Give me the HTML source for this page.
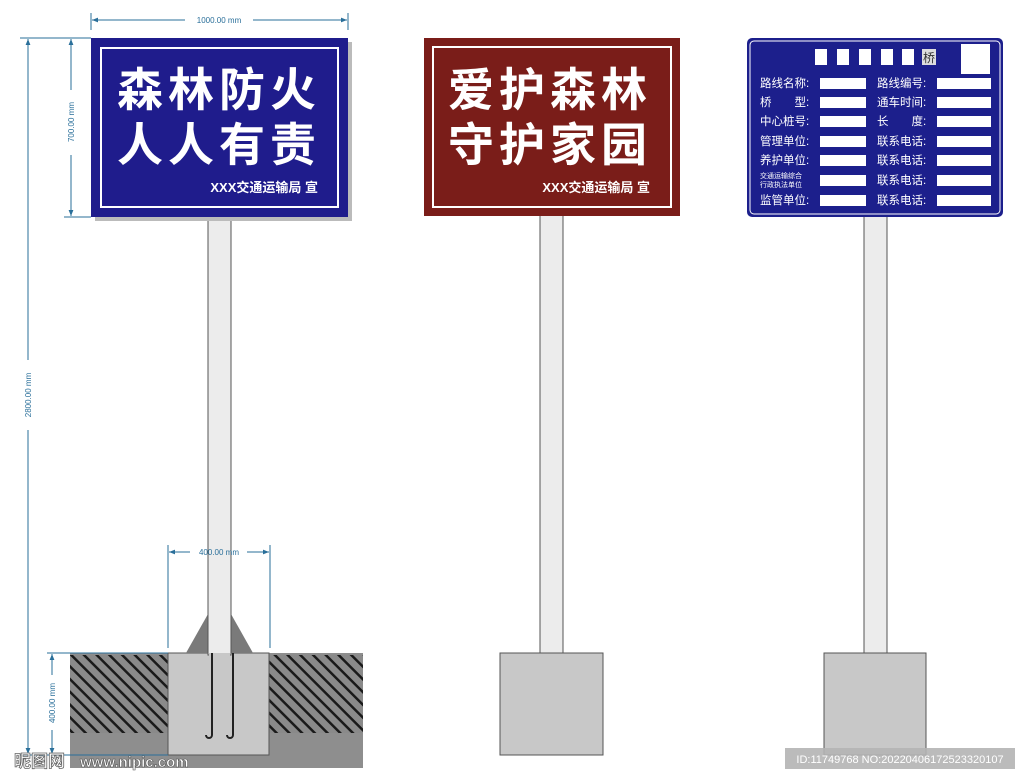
<!DOCTYPE html>
<html><head><meta charset="utf-8"><style>
html,body{margin:0;padding:0;background:#fff;width:1024px;height:779px;overflow:hidden}
svg{display:block}
text{font-family:"Liberation Sans","Noto Sans CJK SC",sans-serif}
</style></head><body>
<svg width="1024" height="779" viewBox="0 0 1024 779" xmlns="http://www.w3.org/2000/svg">
<defs>
<pattern id="hatch" width="9" height="9" patternUnits="userSpaceOnUse" patternTransform="rotate(-45)">
<rect width="9" height="9" fill="#8a8a8a"/>
<rect x="0" y="0" width="2.5" height="9" fill="#1a1a1a"/>
</pattern>
<marker id="ar" viewBox="0 0 10 10" refX="10" refY="5" markerWidth="8" markerHeight="6" orient="auto-start-reverse"><path d="M0,1 L10,5 L0,9 z" fill="#2a6f9a"/></marker>
</defs>

<rect x="70" y="653" width="293" height="115" fill="#8e8e8e"/>
<rect x="70" y="655" width="293" height="78" fill="url(#hatch)"/>
<rect x="168" y="653" width="101" height="102" fill="#c8c8c8" stroke="#555" stroke-width="1"/>
<polygon points="186,653 208,614 208,653" fill="#7a7a7a"/>
<polygon points="231,614 253,653 231,653" fill="#7a7a7a"/>
<rect x="208" y="215" width="23" height="440" fill="#ececec" stroke="#555" stroke-width="1"/>
<rect x="209" y="653" width="21" height="100" fill="#c8c8c8"/>
<path d="M212,653 V735 a3,3 0 0 1 -6,0" fill="none" stroke="#222" stroke-width="2"/>
<path d="M233,653 V735 a3,3 0 0 1 -6,0" fill="none" stroke="#222" stroke-width="2"/>

<rect x="540" y="215" width="23" height="440" fill="#ececec" stroke="#555" stroke-width="1"/>
<rect x="500" y="653" width="103" height="102" fill="#c8c8c8" stroke="#555" stroke-width="1"/>
<rect x="864" y="215" width="23" height="440" fill="#ececec" stroke="#555" stroke-width="1"/>
<rect x="824" y="653" width="102" height="102" fill="#c8c8c8" stroke="#555" stroke-width="1"/>

<rect x="95" y="42" width="257" height="179" fill="#bbb"/>
<rect x="91" y="38" width="257" height="179" fill="#1f1c8c"/>
<rect x="101" y="48" width="237" height="159" fill="none" stroke="#fff" stroke-width="2"/>
<text x="219" y="106" fill="#fff" font-size="46" font-weight="bold" text-anchor="middle" letter-spacing="5">森林防火</text>
<text x="219" y="161" fill="#fff" font-size="46" font-weight="bold" text-anchor="middle" letter-spacing="5">人人有责</text>
<text x="318" y="192" fill="#fff" font-size="13" font-weight="bold" text-anchor="end">XXX交通运输局 宣</text>

<rect x="424" y="38" width="256" height="178" fill="#7a1d19"/>
<rect x="433" y="47" width="238" height="160" fill="none" stroke="#fff" stroke-width="2"/>
<text x="550" y="106" fill="#fff" font-size="46" font-weight="bold" text-anchor="middle" letter-spacing="5">爱护森林</text>
<text x="550" y="161" fill="#fff" font-size="46" font-weight="bold" text-anchor="middle" letter-spacing="5">守护家园</text>
<text x="650" y="192" fill="#fff" font-size="13" font-weight="bold" text-anchor="end">XXX交通运输局 宣</text>

<rect x="747" y="38" width="256" height="179" rx="5" fill="#1c1f8c"/>
<rect x="750" y="41" width="250" height="173" rx="4" fill="none" stroke="#fff" stroke-width="1"/>
<g fill="#fff">
<rect x="815" y="49" width="12" height="16"/><rect x="837" y="49" width="12" height="16"/><rect x="859" y="49" width="12" height="16"/><rect x="881" y="49" width="12" height="16"/><rect x="902" y="49" width="12" height="16"/>
<rect x="922" y="49" width="14" height="16" fill="#ddd"/>
<rect x="961" y="44" width="29" height="30"/>
</g>
<text x="929" y="62" font-size="12" fill="#333" text-anchor="middle">桥</text>
<g fill="#fff" font-size="11.5">
<text x="760" y="87">路线名称:</text><text x="877" y="87">路线编号:</text>
<text x="760" y="106">桥　　型:</text><text x="877" y="106">通车时间:</text>
<text x="760" y="125">中心桩号:</text><text x="877" y="125">长　　度:</text>
<text x="760" y="145">管理单位:</text><text x="877" y="145">联系电话:</text>
<text x="760" y="164">养护单位:</text><text x="877" y="164">联系电话:</text>
<text x="760" y="178" font-size="7">交通运输综合</text><text x="760" y="187" font-size="7">行政执法单位</text><text x="877" y="184">联系电话:</text>
<text x="760" y="204">监管单位:</text><text x="877" y="204">联系电话:</text>
<rect x="820" y="78" width="46" height="11"/><rect x="937" y="78" width="54" height="11"/>
<rect x="820" y="97" width="46" height="11"/><rect x="937" y="97" width="54" height="11"/>
<rect x="820" y="116" width="46" height="11"/><rect x="937" y="116" width="54" height="11"/>
<rect x="820" y="136" width="46" height="11"/><rect x="937" y="136" width="54" height="11"/>
<rect x="820" y="155" width="46" height="11"/><rect x="937" y="155" width="54" height="11"/>
<rect x="820" y="175" width="46" height="11"/><rect x="937" y="175" width="54" height="11"/>
<rect x="820" y="195" width="46" height="11"/><rect x="937" y="195" width="54" height="11"/>
</g>

<g stroke="#2a6f9a" stroke-width="1" fill="none">
<line x1="91" y1="13" x2="91" y2="30"/><line x1="348" y1="13" x2="348" y2="30"/>
<line x1="92" y1="20" x2="185" y2="20" marker-start="url(#ar)"/><line x1="253" y1="20" x2="347" y2="20" marker-end="url(#ar)"/>
<line x1="20" y1="38" x2="91" y2="38"/>
<line x1="28" y1="39" x2="28" y2="360" marker-start="url(#ar)"/><line x1="28" y1="430" x2="28" y2="754" marker-end="url(#ar)"/>
<line x1="71" y1="39" x2="71" y2="90" marker-start="url(#ar)"/><line x1="71" y1="155" x2="71" y2="216" marker-end="url(#ar)"/>
<line x1="64" y1="217" x2="91" y2="217"/>
<line x1="168" y1="545" x2="168" y2="648"/><line x1="270" y1="545" x2="270" y2="648"/>
<line x1="169" y1="552" x2="190" y2="552" marker-start="url(#ar)"/><line x1="247" y1="552" x2="269" y2="552" marker-end="url(#ar)"/>
<line x1="47" y1="653" x2="168" y2="653"/>
<line x1="52" y1="654" x2="52" y2="675" marker-start="url(#ar)"/><line x1="52" y1="730" x2="52" y2="754" marker-end="url(#ar)"/>
<line x1="20" y1="755" x2="168" y2="755"/>
</g>
<g fill="#2a6f9a" font-size="8">
<text x="219" y="23" text-anchor="middle">1000.00 mm</text>
<text x="219" y="555" text-anchor="middle">400.00 mm</text>
<text transform="translate(31,395) rotate(-90)" text-anchor="middle">2800.00 mm</text>
<text transform="translate(74,122) rotate(-90)" text-anchor="middle">700.00 mm</text>
<text transform="translate(55,703) rotate(-90)" text-anchor="middle">400.00 mm</text>
</g>

<text x="14" y="767" font-size="17" font-weight="bold" fill="#fff" stroke="#666" stroke-width="0.8">昵图网</text>
<text x="80" y="767" font-size="15" font-weight="bold" fill="#fff" stroke="#555" stroke-width="0.6">www.nipic.com</text>
<rect x="785" y="748" width="230" height="21" fill="#b4b4b4" opacity="0.9"/>
<text x="900" y="763" font-size="11" fill="#fff" text-anchor="middle">ID:11749768 NO:20220406172523320107</text>
</svg>
</body></html>
